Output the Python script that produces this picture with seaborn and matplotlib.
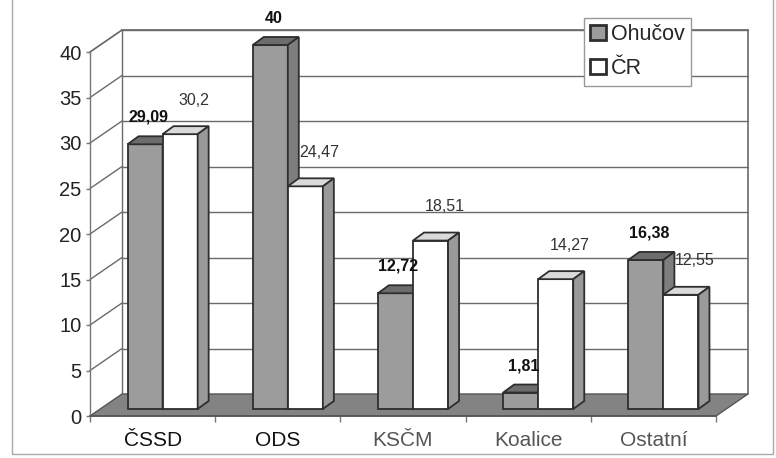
import numpy as np
import pandas as pd
import matplotlib
matplotlib.use("Agg")
import matplotlib.pyplot as plt
from matplotlib.patches import Polygon, Patch, Rectangle
import seaborn as sns

# election results, Ohucov vs whole country (percent)
strany = ["ČSSD", "ODS", "KSČM", "Koalice", "Ostatní"]
ohucov = [29.09, 40, 12.72, 1.81, 16.38]
cr = [30.2, 24.47, 18.51, 14.27, 12.55]
y_ticks = [0, 5, 10, 15, 20, 25, 30, 35, 40]

df = pd.DataFrame({
    "strana": strany * 2,
    "podil": ohucov + cr,
    "oblast": ["Ohučov"] * len(strany) + ["ČR"] * len(strany),
})

sns.set_style("white")
plt.rcParams["font.family"] = ["Liberation Sans", "DejaVu Sans"]

GRAY = "#9c9c9c"
EDGE = "#2e2e2e"
GRID = "#6a6a6a"

fig = plt.figure(figsize=(7.76, 4.58), dpi=100)
ax = fig.add_axes([90 / 776, 42 / 458, 626 / 776, 364 / 458])
ax.set_facecolor("none")

sns.barplot(data=df, x="strana", y="podil", hue="oblast",
            palette=[GRAY, "white"], saturation=1, width=0.56,
            edgecolor=EDGE, linewidth=1.3, legend=False, ax=ax)

ax.set_xlim(-0.5, len(strany) - 0.5)
ax.set_ylim(0, 40)

# pixel -> data conversion for the fake 3d depth
pos = ax.get_position()
ux = pos.width * fig.get_figwidth() * fig.dpi / (len(strany))
uy = pos.height * fig.get_figheight() * fig.dpi / 40
wx, wy = 32 / ux, 22 / uy      # wall depth
sx, sy = 10 / ux, 7 / uy       # bar position inside the depth
bx, by = 11 / ux, 8 / uy       # bar depth

x_l, x_r = -0.5, len(strany) - 0.5

# left wall diagonals + back wall gridlines
for v in y_ticks[1:]:
    ax.plot([x_l, x_l + wx], [v, v + wy], color=GRID, lw=1, zorder=1, clip_on=False)
    ax.plot([x_l + wx, x_r + wx], [v + wy, v + wy], color=GRID, lw=1, zorder=1, clip_on=False)
ax.plot([x_l + wx, x_l + wx], [wy, 40 + wy], color=GRID, lw=1, zorder=1, clip_on=False)
ax.plot([x_r + wx, x_r + wx], [wy, 40 + wy], color=GRID, lw=1.2, zorder=1, clip_on=False)

# floor
floor = Polygon([(x_l, 0), (x_r, 0), (x_r + wx, wy), (x_l + wx, wy)],
                closed=True, facecolor="#838383", edgecolor="#555555", lw=1,
                zorder=1.5, clip_on=False)
ax.add_patch(floor)

# 3d boxes
styles = [("#6c6c6c", "#7e7e7e"), ("#dadada", "#9a9a9a")]
label_style = [dict(fontweight="bold", color="#111111", off=(3, 27)),
               dict(fontweight="normal", color="#333333", off=(14, 34))]
bars = []
for k, cont in enumerate(ax.containers):
    for p in cont.patches:
        bars.append((p.get_x(), k, p))
bars.sort(key=lambda t: t[0])

for i, (_, k, p) in enumerate(bars):
    p.set_x(p.get_x() + sx)
    p.set_y(sy)
    p.set_clip_on(False)
    z = 3 + i
    p.set_zorder(z)
    x0, y0, w, h = p.get_x(), p.get_y(), p.get_width(), p.get_height()
    top = Polygon([(x0, y0 + h), (x0 + w, y0 + h), (x0 + w + bx, y0 + h + by), (x0 + bx, y0 + h + by)],
                  closed=True, facecolor=styles[k][0], edgecolor=EDGE, lw=1.3, zorder=z + 0.1, clip_on=False)
    side = Polygon([(x0 + w, y0), (x0 + w + bx, y0 + by), (x0 + w + bx, y0 + h + by), (x0 + w, y0 + h)],
                   closed=True, facecolor=styles[k][1], edgecolor=EDGE, lw=1.3, zorder=z + 0.1, clip_on=False)
    ax.add_patch(top)
    ax.add_patch(side)
    st = label_style[k]
    txt = f"{h:g}".replace(".", ",")
    ax.annotate(txt, xy=(x0 + w / 2, y0 + h), xytext=st["off"], textcoords="offset pixels",
                ha="center", va="center", fontsize=11.5, fontweight=st["fontweight"],
                color=st["color"], zorder=50, annotation_clip=False)

# axes styling
for s in ["top", "right"]:
    ax.spines[s].set_visible(False)
ax.spines["left"].set_color("#777777")
ax.spines["bottom"].set_color("#555555")
ax.spines["left"].set_linewidth(1)
ax.spines["bottom"].set_linewidth(1.2)
ax.plot([x_l, x_l + wx], [40, 40 + wy], color=GRID, lw=1, zorder=1, clip_on=False)
ax.plot([x_l + wx, x_r + wx], [40 + wy, 40 + wy], color=GRID, lw=1.2, zorder=1, clip_on=False)

ax.set_yticks(y_ticks)
ax.tick_params(axis="y", direction="out", length=3, width=1, color="#777777",
               pad=3, labelsize=14.5, labelcolor="#222222", left=True)
ax.set_xticks(range(len(strany)))
ax.set_xticks(np.arange(len(strany) + 1) - 0.5, minor=True)
ax.tick_params(axis="x", which="major", length=0, pad=11, labelsize=15)
ax.tick_params(axis="x", which="minor", direction="out", length=4.5, width=1,
               color="#777777", bottom=True)
for t, c in zip(ax.get_xticklabels(), ["#111111", "#111111", "#555555", "#555555", "#555555"]):
    t.set_color(c)
ax.set_xlabel("")
ax.set_ylabel("")

handles = [Patch(facecolor=GRAY, edgecolor=EDGE, lw=2, label="Ohučov"),
           Patch(facecolor="white", edgecolor=EDGE, lw=2, label="ČR")]
leg = fig.legend(handles=handles, loc="upper left", bbox_to_anchor=(584 / 776, 1 - 18 / 458),
                 fontsize=15.5, handlelength=0.7, handleheight=0.7, handletextpad=0.25,
                 labelspacing=0.6, borderpad=0.3, borderaxespad=0, frameon=True,
                 fancybox=False, framealpha=1, edgecolor="#999999")
leg.get_frame().set_linewidth(1)
leg.set_zorder(100)

fig.add_artist(Rectangle((12 / 776, 4 / 458), 761 / 776, 1.2, transform=fig.transFigure,
                         fill=False, edgecolor="#aaaaaa", lw=1))

fig.savefig("out.png", dpi=100, facecolor="white")
